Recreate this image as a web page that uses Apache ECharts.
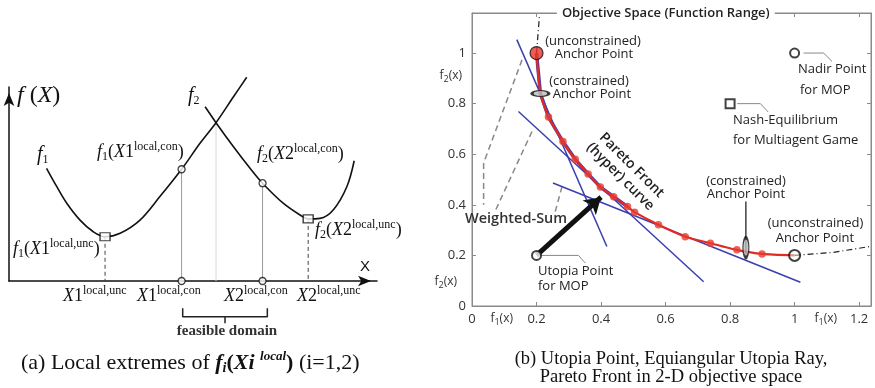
<!DOCTYPE html>
<html>
<head>
<meta charset="utf-8">
<script src="https://cdn.jsdelivr.net/npm/echarts@6/dist/echarts.min.js"></script>
<style>
html,body{margin:0;padding:0;background:#fff;}
#chart{width:875px;height:388px;}
</style>
</head>
<body>
<div id="chart"></div>
<script>
// ---------- Panel (a): two objectives over X (arbitrary units 0..100) ----------
const f1Curve = [[10.2,58.1],[13.0,48.6],[15.7,40.1],[19.3,31.4],[22.9,25.4],[26.1,22.8],[30.2,24.6],[35.6,31.4],[41.0,43.5],[46.9,57.6],[51.9,71.0],[56.25,81.6],[61.0,95.0],[64.6,105.0]];
const f2Curve = [[53.3,89.8],[56.25,81.6],[61.0,69.2],[65.5,58.1],[68.9,50.4],[74.5,40.1],[79.1,34.0],[81.3,32.0],[84.5,32.3],[88.1,36.6],[91.8,48.6],[93.8,62.0]];
const conPoints = [[46.9,57.6],[68.9,50.4]];   // constrained local extremes
const uncPoints = [[26.1,22.8],[81.3,32.0]];   // unconstrained local minima
const crossPoint = [56.25,81.6];
const feasibleDomain = [47.2,70.2];
const bracketLevels = [-14.1,-18.4,-21.8];

// ---------- Panel (b): objective space f1(x), f2(x) ----------
const paretoFront = [[0.2,1.0],[0.212,0.84],[0.237,0.747],[0.282,0.650],[0.320,0.580],[0.360,0.522],[0.398,0.470],[0.439,0.432],[0.482,0.393],[0.504,0.371],[0.578,0.321],[0.661,0.274],[0.739,0.248],[0.821,0.222],[0.899,0.206],[1.0,0.2]];
const anchorUnconstrained = [[0.2,1.0],[1.0,0.2]];
const anchorConstrained = [[0.212,0.84],[0.849,0.231]];
const utopiaPoint = [0.2,0.2];
const nadirPoint = [1.0,1.0];
const nashPoint = [0.8,0.8];
const utopiaRayEnd = [0.4,0.43];
const tangentLines = [
  [[0.139,1.053],[0.418,0.235]],
  [[0.144,0.769],[0.718,0.096]],
  [[0.251,0.486],[1.018,0.094]]
];
const weightedSumGuides = [
  [[0.155,0.973],[0.036,0.565],[0.036,0.40]],
  [[0.186,0.690],[0.071,0.373]],
  [[0.279,0.472],[0.258,0.373]]
];
const frontExtensions = [
  [[0.2,1.0],[0.209,1.145]],
  [[1.0,0.2],[1.12,0.212],[1.237,0.236]]
];
const calloutLines = [
  [[0.215,0.2],[0.33,0.2],[0.351,0.17]],
  [[1.028,1.0],[1.09,1.0],[1.116,0.967]],
  [[0.822,0.8],[0.894,0.8],[0.918,0.767]]
];
const constrainedPointer = [[0.849,0.413],[0.849,0.20]];
const xRange = [0,1.2368];
const yRange = [0,1.1583];
const tickStep = 0.2;

const SERIF = '"Liberation Serif","Times New Roman",serif';
const SANS = '"Open Sans","Noto Sans",sans-serif';
const INK = '#111';

const series = [];
function polyline(data, idx, lineStyle, z) {
  series.push({type:'line', xAxisIndex:idx, yAxisIndex:idx, data:data, symbol:'none', showSymbol:false,
    lineStyle:lineStyle, clip:false, silent:true, z:z||2, animation:false});
}
function markers(data, idx, symbol, size, itemStyle, z) {
  series.push({type:'scatter', xAxisIndex:idx, yAxisIndex:idx, data:data, symbol:symbol, symbolSize:size,
    itemStyle:itemStyle, clip:false, silent:true, z:z||5, animation:false});
}

// panel (a) guides
conPoints.forEach(p => polyline([p,[p[0],0]], 0, {color:'#9a9a9a', width:1}));
uncPoints.forEach(p => polyline([p,[p[0],0]], 0, {color:'#444', width:1, type:[4,3]}));
polyline([crossPoint,[crossPoint[0],0]], 0, {color:'#d8d8d8', width:1});
// panel (a) curves
series.push({type:'line', xAxisIndex:0, yAxisIndex:0, data:f1Curve, smooth:0.35, symbol:'none', clip:false, silent:true, z:3, animation:false, lineStyle:{color:INK, width:1.6}});
series.push({type:'line', xAxisIndex:0, yAxisIndex:0, data:f2Curve, smooth:0.35, symbol:'none', clip:false, silent:true, z:3, animation:false, lineStyle:{color:INK, width:1.6}});
markers(conPoints.concat(conPoints.map(p => [p[0],0])), 0, 'circle', 7, {color:'#fff', borderColor:INK, borderWidth:1.3});
markers(uncPoints, 0, 'rect', [10,8], {color:'#fff', borderColor:INK, borderWidth:1.3});
// feasible-domain bracket
polyline([[feasibleDomain[0],bracketLevels[0]],[feasibleDomain[0],bracketLevels[1]],[feasibleDomain[1],bracketLevels[1]],[feasibleDomain[1],bracketLevels[0]]], 0, {color:'#222', width:1.5});
polyline([[(feasibleDomain[0]+feasibleDomain[1])/2,bracketLevels[1]],[(feasibleDomain[0]+feasibleDomain[1])/2,bracketLevels[2]]], 0, {color:'#222', width:1.5});

// panel (b)
weightedSumGuides.forEach(g => polyline(g, 1, {color:'#888', width:1.5, type:[6,4]}));
tangentLines.forEach(t => polyline(t, 1, {color:'#3b3fae', width:1.5}, 3));
polyline(paretoFront.slice(0,9), 1, {color:'#4a3fb0', width:3.5}, 3);
series.push({type:'line', xAxisIndex:1, yAxisIndex:1, data:paretoFront, smooth:0.2, symbol:'none', clip:false, silent:true, z:4, animation:false, lineStyle:{color:'#e02a22', width:2.2}});
markers(paretoFront.slice(2,-1), 1, 'circle', 7.5, {color:'#ea3a2e'}, 4);
frontExtensions.forEach(e => polyline(e, 1, {color:'#222', width:1.2, type:[6,3,1,3]}));
calloutLines.forEach(c => polyline(c, 1, {color:'#888', width:1}));
polyline(constrainedPointer, 1, {color:INK, width:1.2}, 5);
// utopia ray
series.push({type:'line', xAxisIndex:1, yAxisIndex:1, data:[], silent:true, animation:false, z:6,
  markLine:{silent:true, animation:false, symbol:['none','arrow'], symbolSize:[15,16], label:{show:false},
    lineStyle:{color:INK, width:5, type:'solid'},
    data:[[{coord:utopiaPoint},{coord:utopiaRayEnd}]]}});
markers([anchorUnconstrained[0]], 1, 'circle', 13, {color:'#e8332a', borderColor:INK, borderWidth:1.2}, 7);
markers([anchorUnconstrained[1]], 1, 'circle', 11, {color:'rgba(255,255,255,0.6)', borderColor:INK, borderWidth:2}, 7);
markers([anchorConstrained[0]], 1, 'circle', [17,6], {color:'#bbb', borderColor:INK, borderWidth:2}, 7);
markers([anchorConstrained[1]], 1, 'circle', [6,20], {color:'#bbb', borderColor:INK, borderWidth:2}, 7);
markers([utopiaPoint, nadirPoint], 1, 'circle', 9, {color:'#fff', borderColor:INK, borderWidth:2}, 7);
markers([nashPoint], 1, 'rect', 9, {color:'#fff', borderColor:INK, borderWidth:2}, 7);

function tickFmt(v) {
  const k = v / tickStep;
  return Math.abs(k - Math.round(k)) < 1e-6 ? String(Math.round(v * 10) / 10) : '';
}
const frameColor = '#8a8a8a';
const tickLabel = {color:'#333', fontSize:13, fontFamily:SANS, formatter:tickFmt};

// ---------- text ----------
function mathRich(main) {
  return {
    i:{fontFamily:SERIF, fontStyle:'italic', fontSize:main, lineHeight:22, fill:INK},
    n:{fontFamily:SERIF, fontSize:main, lineHeight:22, fill:INK},
    sub:{fontFamily:SERIF, fontSize:12, lineHeight:11, verticalAlign:'bottom', fill:INK},
    sup:{fontFamily:SERIF, fontSize:12, lineHeight:12, verticalAlign:'top', fill:INK}
  };
}
function rtext(x, y, text, rich, align) {
  return {type:'text', x:x, y:y, z:100, silent:true, style:{text:text, rich:rich, align:align||'left', verticalAlign:'middle'}};
}
function ptext(x, y, text, font, align, extra) {
  return {type:'text', x:x, y:y, z:100, silent:true, style:Object.assign({text:text, font:font, fill:'#222', align:align||'left', verticalAlign:'middle'}, extra||{})};
}
const r18 = mathRich(18);
const rTop = mathRich(24);
const annFont = '13px ' + SANS;
const axRich = {
  a:{fontFamily:SANS, fontSize:12, fill:'#333', lineHeight:16},
  s:{fontFamily:SANS, fontSize:9, fill:'#333', lineHeight:8, verticalAlign:'bottom'}
};
const capRich = {
  n:{fontFamily:SERIF, fontSize:22, fill:INK, lineHeight:25},
  b:{fontFamily:SERIF, fontSize:22, fill:INK, fontWeight:'bold', lineHeight:25},
  bi:{fontFamily:SERIF, fontSize:22, fill:INK, fontWeight:'bold', fontStyle:'italic', lineHeight:25},
  bs:{fontFamily:SERIF, fontSize:14, fill:INK, fontWeight:'bold', fontStyle:'italic', lineHeight:12, verticalAlign:'bottom'},
  bp:{fontFamily:SERIF, fontSize:13, fill:INK, fontWeight:'bold', fontStyle:'italic', lineHeight:14, verticalAlign:'top'}
};

const graphic = [
  // panel (a)
  rtext(17, 96, '{i|f}{n| (}{i|X}{n|)}', rTop),
  rtext(37, 155, '{i|f}{sub|1}', mathRich(20)),
  rtext(188, 96, '{i|f}{sub|2}', mathRich(20)),
  rtext(97, 152, '{i|f}{sub|1}{n|(}{i|X}{n|1}{sup|local,con}{n|)}', r18),
  rtext(257, 154, '{i|f}{sub|2}{n|(}{i|X}{n|2}{sup|local,con}{n|)}', r18),
  rtext(13, 249, '{i|f}{sub|1}{n|(}{i|X}{n|1}{sup|local,unc}{n|)}', r18),
  rtext(315, 230, '{i|f}{sub|2}{n|(}{i|X}{n|2}{sup|local,unc}{n|)}', r18),
  rtext(63, 296, '{i|X}{n|1}{sup|local,unc}', r18),
  rtext(137, 296, '{i|X}{n|1}{sup|local,con}', r18),
  rtext(224, 296, '{i|X}{n|2}{sup|local,con}', r18),
  rtext(297, 296, '{i|X}{n|2}{sup|local,unc}', r18),
  ptext(365, 267, 'X', '15px "Liberation Sans",Arial,sans-serif', 'center', {fill:INK}),
  ptext(227, 331, 'feasible domain', 'bold 15px ' + SERIF, 'center', {fill:'#333'}),
  rtext(21, 363, '{n|(a) Local extremes of }{bi|f}{bs|i}{b|(}{bi|Xi }{bp|local}{b|)}{n| (i=1,2)}', capRich),
  // panel (b)
  ptext(665.8, 13, 'Objective Space (Function Range)', '600 13px ' + SANS, 'center', {backgroundColor:'#fff', padding:[1,5]}),
  ptext(593, 41, '(unconstrained)', annFont, 'center'),
  ptext(594, 54, 'Anchor Point', annFont, 'center'),
  ptext(589, 81, '(constrained)', annFont, 'center'),
  ptext(592, 94.5, 'Anchor Point', annFont, 'center'),
  ptext(798, 69, 'Nadir Point', annFont),
  ptext(800, 90, 'for MOP', annFont),
  ptext(733, 120, 'Nash-Equilibrium', annFont),
  ptext(733, 140, 'for Multiagent Game', annFont),
  ptext(746, 181.5, '(constrained)', annFont, 'center'),
  ptext(746, 194, 'Anchor Point', annFont, 'center'),
  ptext(815.5, 223, '(unconstrained)', annFont, 'center'),
  ptext(815, 238, 'Anchor Point', annFont, 'center'),
  ptext(538, 271, 'Utopia Point', annFont),
  ptext(538, 286, 'for MOP', annFont),
  ptext(465, 219, 'Weighted-Sum', '600 14.5px ' + SANS, 'left', {fill:'#333'}),
  {type:'text', x:626, y:171, rotation:-Math.PI/4, z:100, silent:true,
   style:{text:'Pareto Front\n(hyper) curve', font:'600 14px ' + SANS, fill:'#222', align:'center', verticalAlign:'middle', lineHeight:16}},
  rtext(462, 76, '{a|f}{s|2}{a|(x)}', axRich, 'right'),
  rtext(457, 282, '{a|f}{s|2}{a|(x)}', axRich, 'right'),
  rtext(501.7, 319, '{a|f}{s|1}{a|(x)}', axRich, 'center'),
  rtext(825.8, 319, '{a|f}{s|1}{a|(x)}', axRich, 'center'),
  // captions
  ptext(671, 359, '(b) Utopia Point, Equiangular Utopia Ray,', '18.5px ' + SERIF, 'center', {fill:INK}),
  ptext(671, 377, 'Pareto Front in 2-D objective space', '18.5px ' + SERIF, 'center', {fill:INK})
];

const chart = echarts.init(document.getElementById('chart'), null, {renderer:'canvas'});
chart.setOption({
  animation:false,
  backgroundColor:'#fff',
  grid:[
    {left:9, top:87, width:368, height:194, show:false},
    {left:472, top:13, width:399, height:293, show:true, borderColor:frameColor, borderWidth:1, backgroundColor:'transparent'}
  ],
  xAxis:[
    {gridIndex:0, type:'value', min:0, max:100,
     axisLine:{show:true, onZero:false, symbol:['none','arrow'], symbolSize:[8,13], symbolOffset:[0,-6], lineStyle:{color:INK, width:1.5}},
     axisTick:{show:false}, axisLabel:{show:false}, splitLine:{show:false}},
    {gridIndex:1, type:'value', position:'bottom', min:xRange[0], max:xRange[1], interval:tickStep,
     axisLine:{show:true, onZero:false, lineStyle:{color:frameColor}},
     axisTick:{show:true, inside:true, length:4, lineStyle:{color:frameColor}},
     axisLabel:Object.assign({margin:7}, tickLabel), splitLine:{show:false}},
    {gridIndex:1, type:'value', position:'top', min:xRange[0], max:xRange[1], interval:tickStep,
     axisLine:{show:true, onZero:false, lineStyle:{color:frameColor}},
     axisTick:{show:true, inside:true, length:4, lineStyle:{color:frameColor}},
     axisLabel:{show:false}, splitLine:{show:false}}
  ],
  yAxis:[
    {gridIndex:0, type:'value', min:0, max:100,
     axisLine:{show:true, onZero:false, symbol:['none','arrow'], symbolSize:[8,13], symbolOffset:[0,-6], lineStyle:{color:INK, width:1.5}},
     axisTick:{show:false}, axisLabel:{show:false}, splitLine:{show:false}},
    {gridIndex:1, type:'value', position:'left', min:yRange[0], max:yRange[1], interval:tickStep,
     axisLine:{show:true, onZero:false, lineStyle:{color:frameColor}},
     axisTick:{show:true, inside:true, length:4, lineStyle:{color:frameColor}},
     axisLabel:Object.assign({margin:6}, tickLabel), splitLine:{show:false}},
    {gridIndex:1, type:'value', position:'right', min:yRange[0], max:yRange[1], interval:tickStep,
     axisLine:{show:true, onZero:false, lineStyle:{color:frameColor}},
     axisTick:{show:true, inside:true, length:4, lineStyle:{color:frameColor}},
     axisLabel:{show:false}, splitLine:{show:false}}
  ],
  series:series,
  graphic:graphic
});
</script>
</body>
</html>
